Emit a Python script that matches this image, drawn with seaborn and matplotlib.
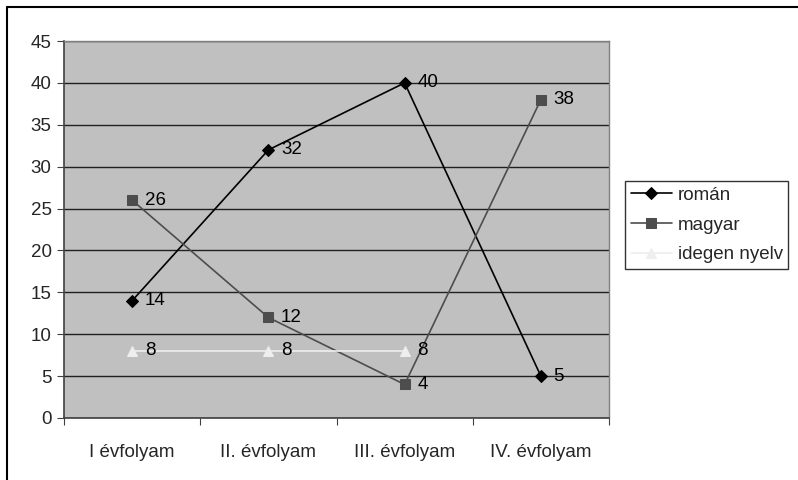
import numpy as np
import pandas as pd
import matplotlib
matplotlib.use("Agg")
import matplotlib.pyplot as plt
import seaborn as sns
from matplotlib.lines import Line2D

categories = ["I évfolyam", "II. évfolyam", "III. évfolyam", "IV. évfolyam"]
roman = [14, 32, 40, 5]
magyar = [26, 12, 4, 38]
idegen = [8, 8, 8, np.nan]
series_names = ["román", "magyar", "idegen nyelv"]

sns.set_style("white")
plt.rcParams['font.family'] = ['Liberation Sans', 'DejaVu Sans']
FS = 13.5

fig = plt.figure(figsize=(7.98, 4.8), dpi=100)
ax = fig.add_axes([64/798, 1-418/480, (609-64)/798, (418-41)/480])
ax.set_facecolor("#C0C0C0")

pos = list(range(len(categories)))
styles = [
    dict(color="black", marker="D", ms=6.5),
    dict(color="#4D4D4D", marker="s", ms=7),
    dict(color="#EEEEEE", marker="^", ms=7.5),
]
for name, vals, st in zip(series_names, [roman, magyar, idegen], styles):
    df = pd.DataFrame({"x": pos, "y": vals}).dropna()
    sns.lineplot(data=df, x="x", y="y", ax=ax, color=st["color"], marker=st["marker"],
                 markersize=st["ms"], markeredgecolor=st["color"], markerfacecolor=st["color"],
                 linewidth=1.2, label=name, zorder=3)
    for x, y in zip(df["x"], df["y"]):
        ax.annotate(f"{int(y)}", (x, y), xytext=(9, 0), textcoords="offset points",
                    va="center", ha="left", fontsize=FS, color="black", zorder=4)

ax.set_xlim(-0.5, 3.5)
ax.set_ylim(0, 45)
ax.set_yticks(np.arange(0, 46, 5))
ax.yaxis.grid(True, color="#202020", linewidth=1)
ax.xaxis.grid(False)
ax.set_axisbelow(True)
ax.set_xticks(np.arange(-0.5, 3.6, 1))
ax.set_xticklabels([])
ax.set_xticks(pos, minor=True)
ax.set_xticklabels(categories, minor=True)
ax.tick_params(axis="x", which="major", length=5, direction="out", color="#404040", bottom=True)
ax.tick_params(axis="x", which="minor", length=0, pad=19, labelsize=FS)
ax.tick_params(axis="y", length=5, direction="out", color="#404040", left=True, labelsize=FS, pad=4)
ax.set_xlabel("")
ax.set_ylabel("")
for s in ["left", "bottom"]:
    ax.spines[s].set_color("#404040")
    ax.spines[s].set_linewidth(1.2)
for s in ["top", "right"]:
    ax.spines[s].set_color("#808080")
    ax.spines[s].set_linewidth(1)

leg = ax.legend(loc="center left", bbox_to_anchor=(625/798, 1-225/480), bbox_transform=fig.transFigure,
                frameon=True, fancybox=False, edgecolor="black", fontsize=FS, borderaxespad=0,
                handlelength=2.2, handletextpad=0.3, borderpad=0.3, labelspacing=0.68)
leg.get_frame().set_linewidth(1)

fig.add_artist(Line2D([7/798, 1], [1-7/480, 1-7/480], color="black", lw=1.5, transform=fig.transFigure))
fig.add_artist(Line2D([7/798, 7/798], [0, 1-7/480], color="black", lw=1.5, transform=fig.transFigure))

fig.savefig("out.png", dpi=100)
